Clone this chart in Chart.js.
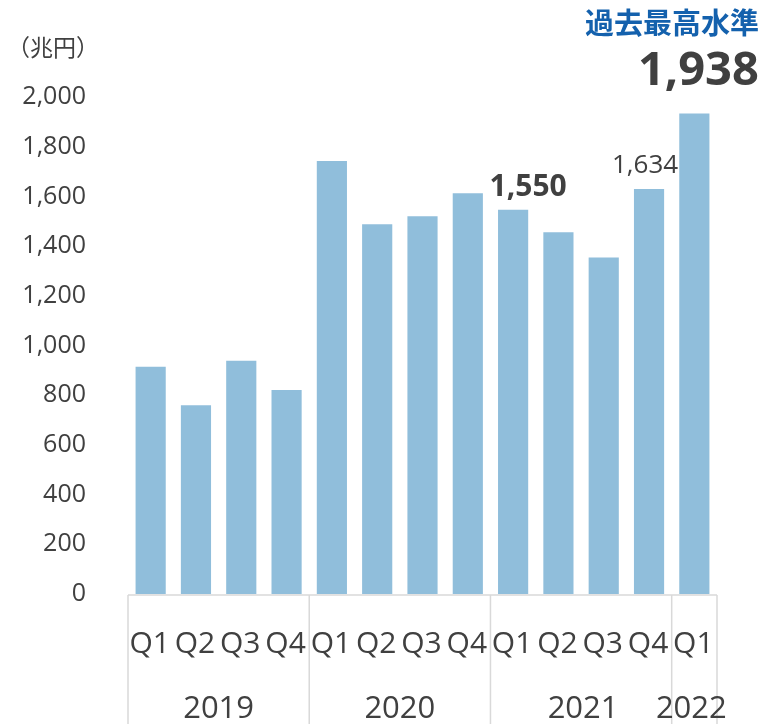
<!DOCTYPE html>
<html>
<head>
<meta charset="utf-8">
<script src="https://cdn.jsdelivr.net/npm/chart.js@4"></script>
<style>
  html, body { margin: 0; padding: 0; background: #fff; }
  #wrap { width: 763px; height: 724px; position: relative; }
</style>
</head>
<body>
<div id="wrap"><canvas id="c" width="763" height="724"></canvas></div>
<script>
const quarters = ['Q1','Q2','Q3','Q4','Q1','Q2','Q3','Q4','Q1','Q2','Q3','Q4','Q1'];
const years = ['2019','2020','2021','2022'];
const yearCounts = [4, 4, 4, 1];
const values = [919, 764, 943, 825, 1746, 1492, 1524, 1617, 1550, 1460, 1358, 1634, 1938];
const yTicks = [0, 200, 400, 600, 800, 1000, 1200, 1400, 1600, 1800, 2000];
const unitLabel = '（兆円）';
const recordLabel = '過去最高水準';
const boldLabelIndex = 8;
const plainLabelIndex = 11;
const recordIndex = 12;

const FONT = "'Open Sans', 'Noto Sans CJK JP', sans-serif";
const JP = "'Noto Sans CJK JP', sans-serif";
const TXT = '#404040';

function fmt(v) { return v.toLocaleString('en-US'); }

const overlay = {
  id: 'overlay',
  afterDraw(chart) {
    const ctx = chart.ctx;
    const x = chart.scales.x, y = chart.scales.y;
    const area = chart.chartArea;
    const bottom = chart.height;
    ctx.save();
    // axis box lines
    ctx.strokeStyle = '#d9d9d9';
    ctx.lineWidth = 1.5;
    ctx.beginPath();
    ctx.moveTo(area.left, area.bottom + 1);
    ctx.lineTo(area.right, area.bottom + 1);
    ctx.stroke();
    let start = 0;
    const bounds = [start];
    yearCounts.forEach(c => { start += c; bounds.push(start); });
    bounds.forEach(b => {
      const px = x.getPixelForValue(b - 0.5);
      ctx.beginPath();
      ctx.moveTo(px, area.bottom + 1);
      ctx.lineTo(px, bottom);
      ctx.stroke();
    });
    ctx.fillStyle = TXT;
    ctx.textAlign = 'center';
    ctx.textBaseline = 'alphabetic';
    // quarter labels
    ctx.font = "30px " + FONT;
    quarters.forEach((q, i) => {
      ctx.fillText(q, x.getPixelForValue(i) - 1, area.bottom + 59);
    });
    // year labels
    ctx.font = "31px " + FONT;
    years.forEach((yr, i) => {
      const a = x.getPixelForValue(bounds[i] - 0.5);
      const b = x.getPixelForValue(bounds[i + 1] - 0.5);
      ctx.fillText(yr, (a + b) / 2 - (i === 3 ? 3 : (i === 2 ? -2 : 0)), area.bottom + 124);
    });
    // unit label
    ctx.font = "23px " + JP;
    ctx.textAlign = 'left';
    ctx.textBaseline = 'middle';
    ctx.fillText(unitLabel, 7, 47);
    // bar annotations
    ctx.textAlign = 'center';
    ctx.textBaseline = 'alphabetic';
    ctx.font = "bold 30px " + FONT;
    ctx.fillText(fmt(values[boldLabelIndex]), x.getPixelForValue(boldLabelIndex) + 15, y.getPixelForValue(values[boldLabelIndex]) - 13);
    ctx.font = "26px " + FONT;
    ctx.fillText(fmt(values[plainLabelIndex]), x.getPixelForValue(plainLabelIndex) - 4, y.getPixelForValue(values[plainLabelIndex]) - 15);
    ctx.font = "bold 47px " + FONT;
    ctx.fillText(fmt(values[recordIndex]), x.getPixelForValue(recordIndex) + 4, y.getPixelForValue(values[recordIndex]) - 27);
    ctx.font = "bold 29px " + JP;
    ctx.fillStyle = '#1461ad';
    ctx.textAlign = 'right';
    ctx.textBaseline = 'middle';
    ctx.fillText(recordLabel, chart.width - 4, 23);
    ctx.restore();
  }
};

new Chart(document.getElementById('c'), {
  type: 'bar',
  data: {
    labels: quarters,
    datasets: [{
      data: values,
      backgroundColor: '#90bedb',
      borderColor: 'rgba(255,255,255,0.7)',
      borderWidth: 1,
      barPercentage: 0.71,
      categoryPercentage: 1.0
    }]
  },
  options: {
    responsive: false,
    animation: false,
    devicePixelRatio: 1,
    layout: { padding: { left: 0, right: 46, top: 97, bottom: 0 } },
    plugins: { legend: { display: false }, tooltip: { enabled: false } },
    scales: {
      x: {
        grid: { display: false, drawTicks: false },
        border: { display: false },
        ticks: { display: false },
        afterFit(s) { s.height = 130; }
      },
      y: {
        min: 0, max: 2000,
        afterBuildTicks(s) { s.ticks = yTicks.map(v => ({ value: v })); },
        grid: { display: false, drawTicks: false },
        border: { display: false },
        ticks: { color: TXT, font: { family: FONT, size: 25 }, padding: 42, callback: v => fmt(v) },
        afterFit(s) { s.width = 128; }
      }
    }
  },
  plugins: [overlay]
});
</script>
</body>
</html>
